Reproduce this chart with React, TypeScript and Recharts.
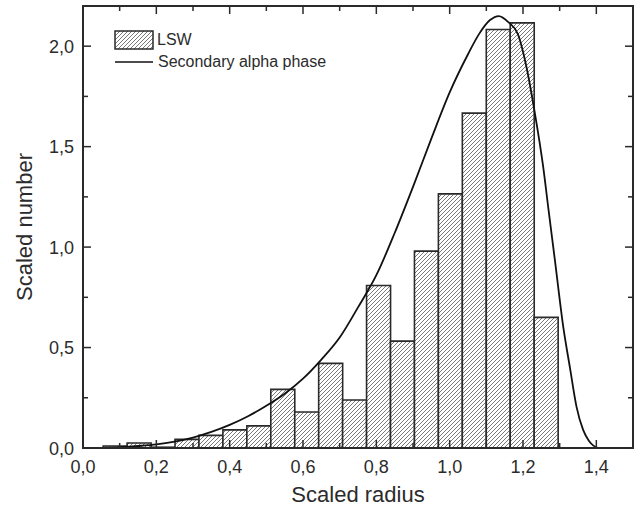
import { ComposedChart, Bar, Line, XAxis, YAxis, Legend, ReferenceArea } from "recharts"

// histogram bins (centre of each bin, bin width ~0.0653)
const binCenters = [
  0.0877, 0.153, 0.2183, 0.2836, 0.3489, 0.4142, 0.4795, 0.5448, 0.6101, 0.6754,
  0.7407, 0.806, 0.8713, 0.9366, 1.0019, 1.0672, 1.1325, 1.1978, 1.2631,
]
const binCounts = [
  0.01, 0.025, 0.004, 0.043, 0.063, 0.09, 0.11, 0.292, 0.179, 0.421,
  0.239, 0.809, 0.532, 0.98, 1.265, 1.667, 2.083, 2.116, 0.65,
]

// fitted distribution (secondary alpha phase)
const curveRadius = [
  0.05, 0.1, 0.15, 0.2, 0.25, 0.3, 0.35, 0.4, 0.45, 0.5, 0.55, 0.6, 0.65, 0.7,
  0.75, 0.8, 0.85, 0.9, 0.95, 1.0, 1.05, 1.08, 1.11, 1.134, 1.16, 1.186, 1.209,
  1.232, 1.255, 1.27, 1.287, 1.31, 1.328, 1.346, 1.364, 1.38, 1.392, 1.405,
]
const curveNumber = [
  0, 0.004, 0.01, 0.018, 0.032, 0.052, 0.08, 0.115, 0.158, 0.21, 0.27, 0.345, 0.44, 0.55,
  0.7, 0.86, 1.07, 1.3, 1.54, 1.77, 1.96, 2.06, 2.13, 2.15, 2.12, 2.06, 1.9,
  1.67, 1.4, 1.18, 0.935, 0.6, 0.4, 0.205, 0.09, 0.035, 0.012, 0,
]

const xMajorTicks = [0, 0.2, 0.4, 0.6, 0.8, 1.0, 1.2, 1.4]
const xMinorTicks = [0.1, 0.3, 0.5, 0.7, 0.9, 1.1, 1.3]
const yMajorTicks = [0, 0.5, 1.0, 1.5, 2.0]
const yMinorTicks = [0.25, 0.75, 1.25, 1.75]

const AXIS = "#2a2a2a"
const FONT = "'Liberation Sans', Arial, sans-serif"

const barData = binCenters.map((center, i) => ({ center, count: binCounts[i] }))
const curveData = curveRadius.map((r, i) => ({ r, n: curveNumber[i] }))
const xTicks = [...xMajorTicks, ...xMinorTicks].sort((a, b) => a - b)
const yTicks = [...yMajorTicks, ...yMinorTicks].sort((a, b) => a - b)

const isMajor = (list: number[], v: number) => list.some((t) => Math.abs(t - v) < 1e-6)
const fmt = (v: number) => v.toFixed(1).replace(".", ",")

function BottomTick({ x, y, payload }: any) {
  const major = isMajor(xMajorTicks, payload.value)
  return (
    <g>
      <line x1={x} x2={x} y1={y} y2={y - (major ? 8 : 5)} stroke={AXIS} strokeWidth={1.5} />
      {major && (
        <text x={x} y={y + 25} textAnchor="middle" fontSize={18} fontFamily={FONT} fill="#2b2b2b">
          {fmt(payload.value)}
        </text>
      )}
    </g>
  )
}

function TopTick({ x, y, payload }: any) {
  const major = isMajor(xMajorTicks, payload.value)
  return <line x1={x} x2={x} y1={y} y2={y + (major ? 8 : 5)} stroke={AXIS} strokeWidth={1.5} />
}

function LeftTick({ x, y, payload }: any) {
  const major = isMajor(yMajorTicks, payload.value)
  return (
    <g>
      <line x1={x} x2={x + (major ? 8 : 5)} y1={y} y2={y} stroke={AXIS} strokeWidth={1.5} />
      {major && (
        <text x={x - 9} y={y + 6.5} textAnchor="end" fontSize={18} fontFamily={FONT} fill="#2b2b2b">
          {fmt(payload.value)}
        </text>
      )}
    </g>
  )
}

function RightTick({ x, y, payload }: any) {
  const major = isMajor(yMajorTicks, payload.value)
  return <line x1={x} x2={x - (major ? 8 : 5)} y1={y} y2={y} stroke={AXIS} strokeWidth={1.5} />
}

function LegendBox() {
  return (
    <div style={{ fontFamily: FONT, fontSize: 16, color: "#2b2b2b", lineHeight: "22px" }}>
      <div style={{ display: "flex", alignItems: "center", height: 22 }}>
        <svg width={40} height={22}>
          <rect x={1} y={2} width={38} height={18} fill="url(#hatch)" stroke={AXIS} strokeWidth={1.5} />
        </svg>
        <span style={{ marginLeft: 3 }}>LSW</span>
      </div>
      <div style={{ display: "flex", alignItems: "center", height: 22 }}>
        <svg width={40} height={22}>
          <line x1={1} x2={39} y1={11} y2={11} stroke="#111" strokeWidth={1.5} />
        </svg>
        <span style={{ marginLeft: 4 }}>Secondary alpha phase</span>
      </div>
    </div>
  )
}

export default function App() {
  return (
    <div style={{ position: "absolute", left: 0, top: 0, background: "#fff" }}>
      <ComposedChart
        width={638}
        height={512}
        data={barData}
        margin={{ top: 5, right: 4, bottom: 0, left: 0 }}
        barCategoryGap={0}
        barGap={0}
      >
        <defs>
          <pattern id="hatch" patternUnits="userSpaceOnUse" width={4} height={4}>
            <rect width={4} height={4} fill="#fff" />
            <path d="M-1,1 L1,-1 M0,4 L4,0 M3,5 L5,3" stroke="#6a6a6a" strokeWidth={0.9} />
          </pattern>
        </defs>
        <XAxis
          xAxisId="fit"
          type="number"
          dataKey="r"
          domain={[0, 1.5]}
          allowDataOverflow
          ticks={xTicks}
          interval={0}
          height={64}
          tickSize={0}
          tickMargin={0}
          tickLine={false}
          tick={BottomTick}
          axisLine={{ stroke: AXIS, strokeWidth: 2 }}
          label={{
            content: ({ viewBox }: any) => (
              <text
                x={viewBox.x + viewBox.width / 2}
                y={viewBox.y + 54}
                textAnchor="middle"
                fontSize={22}
                fontFamily={FONT}
                fill="#2b2b2b"
              >
                Scaled radius
              </text>
            ),
          }}
        />
        <XAxis
          xAxisId="top"
          orientation="top"
          type="number"
          dataKey="r"
          domain={[0, 1.5]}
          allowDataOverflow
          ticks={xTicks}
          interval={0}
          height={1}
          tickSize={0}
          tickMargin={0}
          tickLine={false}
          tick={TopTick}
          axisLine={{ stroke: AXIS, strokeWidth: 2 }}
        />
        <XAxis
          xAxisId="bins"
          type="number"
          dataKey="center"
          domain={[0, 1.5]}
          allowDataOverflow
          height={0}
          hide
        />
        <YAxis
          yAxisId="left"
          type="number"
          domain={[0, 2.2]}
          allowDataOverflow
          ticks={yTicks}
          interval={0}
          width={83}
          tickSize={0}
          tickMargin={0}
          tickLine={false}
          tick={LeftTick}
          axisLine={{ stroke: AXIS, strokeWidth: 2 }}
          label={{
            content: ({ viewBox }: any) => {
              const cx = viewBox.x + 24
              const cy = viewBox.y + viewBox.height / 2
              return (
                <text
                  x={cx}
                  y={cy}
                  transform={`rotate(-90 ${cx} ${cy})`}
                  textAnchor="middle"
                  dominantBaseline="central"
                  fontSize={22}
                  fontFamily={FONT}
                  fill="#2b2b2b"
                >
                  Scaled number
                </text>
              )
            },
          }}
        />
        <YAxis
          yAxisId="right"
          orientation="right"
          type="number"
          domain={[0, 2.2]}
          allowDataOverflow
          ticks={yTicks}
          interval={0}
          width={1}
          tickSize={0}
          tickMargin={0}
          tickLine={false}
          tick={RightTick}
          axisLine={{ stroke: AXIS, strokeWidth: 2 }}
        />
        <ReferenceArea
          xAxisId="fit"
          yAxisId="left"
          x1={0}
          x2={1.5}
          y1={0}
          y2={2.2}
          fill="none"
          fillOpacity={0}
          stroke={AXIS}
          strokeWidth={2}
          strokeOpacity={1}
        />
        <Legend
          layout="vertical"
          align="center"
          verticalAlign="middle"
          wrapperStyle={{ left: 114, top: 29, width: "auto" }}
          content={() => <LegendBox />}
        />
        <Bar
          xAxisId="bins"
          yAxisId="left"
          dataKey="count"
          name="LSW"
          fill="url(#hatch)"
          stroke={AXIS}
          strokeWidth={1.6}
          isAnimationActive={false}
        />
        <Line
          xAxisId="fit"
          yAxisId="left"
          data={curveData}
          dataKey="n"
          name="Secondary alpha phase"
          type="monotone"
          dot={false}
          activeDot={false}
          stroke="#111"
          strokeWidth={1.8}
          isAnimationActive={false}
        />
      </ComposedChart>
    </div>
  )
}
